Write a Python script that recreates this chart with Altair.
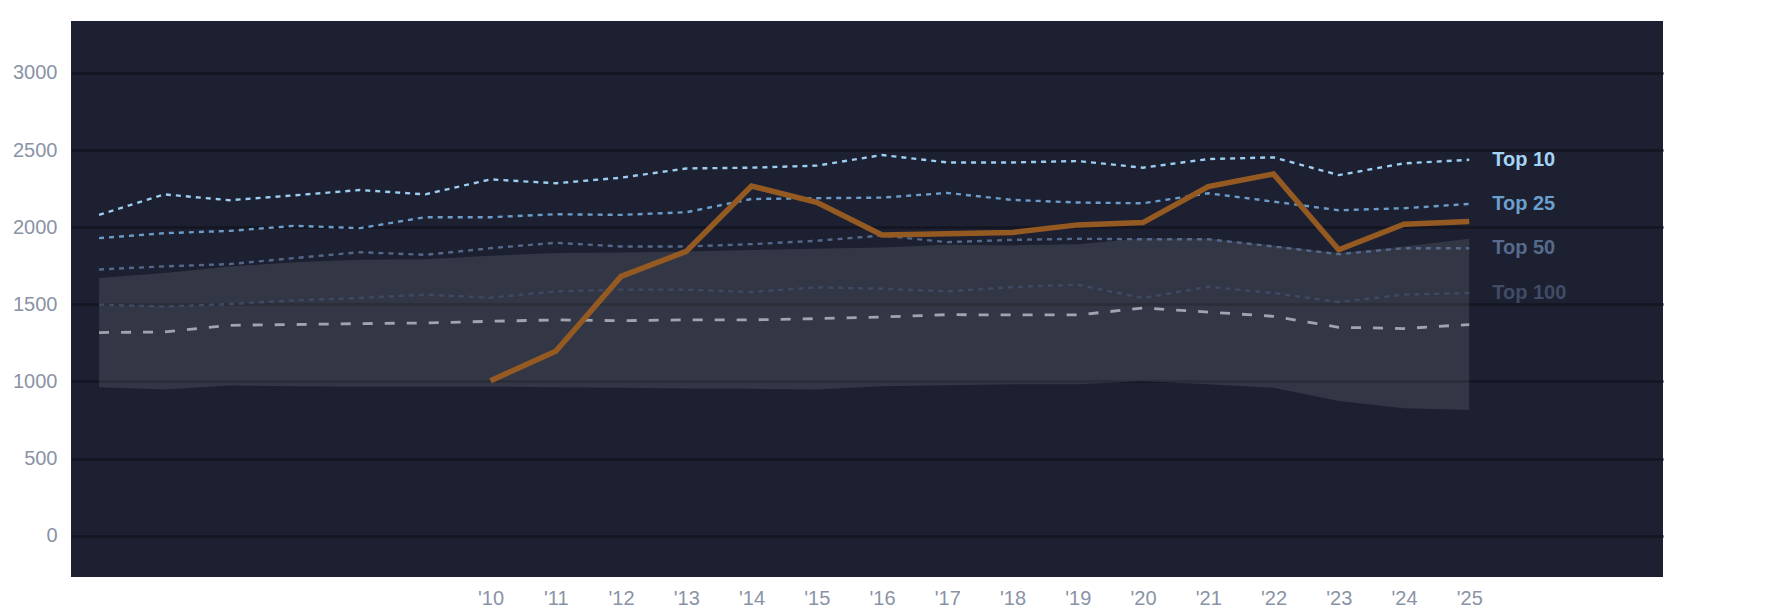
import altair as alt
import pandas as pd

years = list(range(2004, 2026))

top10 = [2080, 2213, 2175, 2207, 2241, 2213, 2310, 2285, 2321, 2381, 2386, 2399,
         2468, 2420, 2420, 2429, 2386, 2442, 2453, 2338, 2414, 2437]
top25 = [1929, 1961, 1976, 2009, 1994, 2065, 2065, 2084, 2080, 2097, 2183, 2188,
         2192, 2222, 2177, 2160, 2155, 2220, 2166, 2110, 2123, 2151]
top50 = [1726, 1746, 1761, 1800, 1838, 1821, 1864, 1899, 1875, 1875, 1890, 1912,
         1946, 1903, 1918, 1925, 1922, 1922, 1875, 1825, 1864, 1864]
top100 = [1498, 1485, 1502, 1526, 1541, 1563, 1543, 1584, 1595, 1595, 1580, 1610,
          1601, 1584, 1612, 1627, 1541, 1614, 1573, 1515, 1563, 1573]
median = [1317, 1321, 1364, 1369, 1375, 1379, 1390, 1399, 1394, 1399, 1399, 1407,
          1418, 1433, 1431, 1431, 1476, 1450, 1422, 1351, 1343, 1369]
band_hi = [1670, 1703, 1746, 1772, 1789, 1793, 1815, 1832, 1836, 1843, 1853, 1860,
           1869, 1886, 1882, 1890, 1929, 1925, 1882, 1832, 1875, 1925]
band_lo = [963, 948, 974, 968, 966, 966, 966, 963, 959, 955, 952, 948,
           968, 976, 981, 981, 1002, 981, 959, 873, 826, 815]

team_years = list(range(2010, 2026))
team = [1005, 1196, 1681, 1843, 2267, 2162, 1950, 1957, 1966, 2015, 2030, 2263,
        2345, 1854, 2019, 2037]

tick_years = list(range(2010, 2026))
y_ticks = [0, 500, 1000, 1500, 2000, 2500, 3000]

xscale = alt.Scale(domain=[2003.57, 2027.97], nice=False, zero=False)
yscale = alt.Scale(domain=[-268, 3337], nice=False, zero=False)


def xenc(field="year"):
    return alt.X(f"{field}:Q", scale=xscale, title=None,
                 axis=alt.Axis(values=tick_years, grid=False,
                               labelExpr="\"'\" + substring(toString(datum.value), 2)",
                               labelPadding=11))


def yenc(field="value"):
    return alt.Y(f"{field}:Q", scale=yscale, title=None,
                 axis=alt.Axis(values=y_ticks, grid=True, gridColor="#131620",
                               format="d", gridWidth=2.5, labelPadding=14))


band_df = pd.DataFrame({"year": years, "lo": band_lo, "hi": band_hi})
band = alt.Chart(band_df).mark_area(color="#ffffff", opacity=0.1).encode(
    x=xenc(), y=yenc("lo"), y2="hi:Q")

series = [
    ("Median", median, "#a0a4ae", [10, 12], 2.8),
    ("Top 100", top100, "#3e4a64", [5, 5], 2.4),
    ("Top 50", top50, "#53688a", [5, 5], 2.4),
    ("Top 25", top25, "#6c9dca", [5, 5], 2.4),
    ("Top 10", top10, "#9dcdf0", [5, 5], 2.4),
]

layers = [band]
for name, vals, col, dash, w in series:
    df = pd.DataFrame({"year": years, "value": vals})
    layers.append(
        alt.Chart(df).mark_line(color=col, strokeDash=dash, strokeWidth=w).encode(
            x=xenc(), y=yenc()))

team_df = pd.DataFrame({"year": team_years, "value": team})
layers.append(
    alt.Chart(team_df).mark_line(color="#955a22", strokeWidth=5.5,
                                 strokeJoin="miter").encode(x=xenc(), y=yenc()))

label_names = ["Top 10", "Top 25", "Top 50", "Top 100"]
label_colors = ["#a6d4f7", "#6d9fce", "#566b8c", "#404c66"]
label_df = pd.DataFrame({
    "year": [2025] * 4,
    "value": [top10[-1], top25[-1], top50[-1], top100[-1]],
    "label": label_names,
})
layers.append(
    alt.Chart(label_df).mark_text(align="left", baseline="middle", dx=23,
                                  fontSize=20, fontWeight="bold",
                                  font="Liberation Sans").encode(
        x=xenc(), y=yenc(), text="label:N",
        color=alt.Color("label:N", scale=alt.Scale(domain=label_names, range=label_colors),
                        legend=None)))

chart = alt.layer(*layers).properties(
    width=1592, height=556,
    autosize=alt.AutoSizeParams(type="none"),
    padding={"left": 63, "top": 13, "right": 114, "bottom": 37},
    background="white",
).configure_view(fill="#1c2030", stroke=None).configure_axis(
    labelFont="Liberation Sans", labelFontSize=20, labelColor="#8a93a6",
    domain=False, ticks=False)

chart.save("out.html", embed_options={"renderer": "svg", "actions": False})
